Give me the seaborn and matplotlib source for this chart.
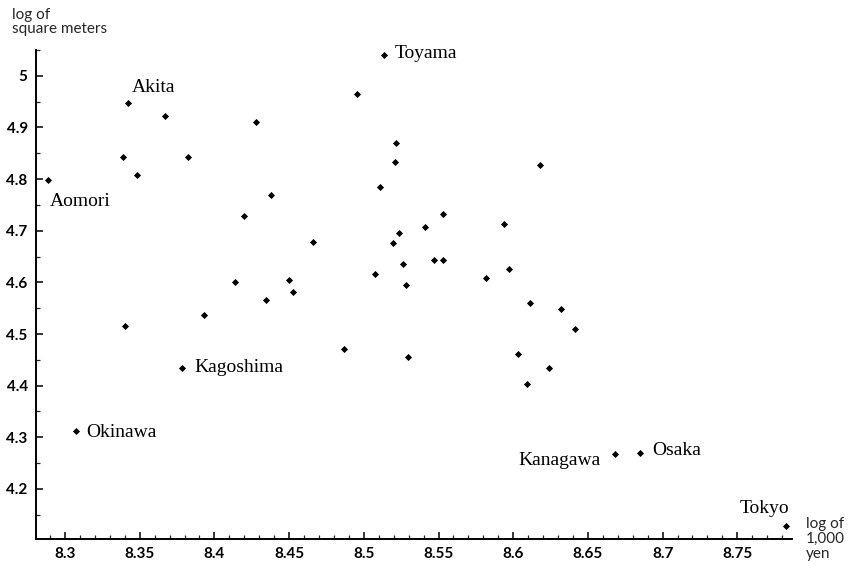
import matplotlib
matplotlib.use("Agg")
import matplotlib.pyplot as plt
from matplotlib.ticker import MultipleLocator
import seaborn as sns
import pandas as pd

# Prefecture-level data: log of income (1,000 yen) vs log of floor area (square meters)
names = ["Akita", "", "", "", "", "", "Aomori", "",
         "", "", "", "", "", "", "", "Kagoshima",
         "Okinawa",
         "Toyama", "", "", "", "", "",
         "", "", "", "", "", "", "", "", "", "", "", "", "", "", "", "", "", "", "", "",
         "", "Kanagawa", "Osaka", "Tokyo"]
log_income = [8.3424, 8.3671, 8.4276, 8.3390, 8.3821, 8.3484, 8.2888, 8.4379,
              8.4200, 8.4138, 8.3930, 8.3402, 8.4497, 8.4526, 8.4348, 8.3785,
              8.3072,
              8.5133, 8.4954, 8.5218, 8.5209, 8.6177, 8.5108,
              8.5528, 8.5407, 8.5941, 8.5238, 8.5195, 8.4662, 8.5468, 8.5528,
              8.5262, 8.5974, 8.5818, 8.5077, 8.5280, 8.6115, 8.6318, 8.6414,
              8.4867, 8.5294, 8.6030, 8.6237,
              8.6092, 8.6681, 8.6849, 8.7824]
log_area = [4.948, 4.923, 4.911, 4.842, 4.842, 4.808, 4.798, 4.769,
            4.729, 4.601, 4.537, 4.515, 4.605, 4.581, 4.565, 4.435,
            4.313,
            5.040, 4.964, 4.870, 4.833, 4.828, 4.784,
            4.732, 4.707, 4.713, 4.695, 4.676, 4.679, 4.643, 4.643,
            4.635, 4.625, 4.609, 4.616, 4.595, 4.560, 4.549, 4.509,
            4.470, 4.455, 4.461, 4.435,
            4.404, 4.267, 4.270, 4.129]

df = pd.DataFrame({"name": names, "income": log_income, "area": log_area})

sns.set_style("ticks")
plt.rcParams["font.family"] = ["Liberation Serif", "DejaVu Serif"]

fig = plt.figure(figsize=(8.52, 5.68), dpi=100)
ax = fig.add_axes([36 / 852, 29 / 568, 756 / 852, 489 / 568])

sns.scatterplot(data=df, x="income", y="area", ax=ax, marker="D", s=9,
                color="black", edgecolor="black", linewidth=0.6)

ax.set_xlim(8.2806, 8.7866)
ax.set_ylim(4.103, 5.05)
ax.set_xlabel("")
ax.set_ylabel("")

ax.xaxis.set_major_locator(MultipleLocator(0.05))
ax.xaxis.set_minor_locator(MultipleLocator(0.01))
ax.yaxis.set_major_locator(MultipleLocator(0.1))
ax.yaxis.set_minor_locator(MultipleLocator(0.05))
ax.set_xticks([8.3, 8.35, 8.4, 8.45, 8.5, 8.55, 8.6, 8.65, 8.7, 8.75])
ax.set_xticklabels(["8.3", "8.35", "8.4", "8.45", "8.5", "8.55", "8.6",
                    "8.65", "8.7", "8.75"])
ax.set_yticks([4.2, 4.3, 4.4, 4.5, 4.6, 4.7, 4.8, 4.9, 5.0])
ax.set_yticklabels(["4.2", "4.3", "4.4", "4.5", "4.6", "4.7", "4.8", "4.9", "5"])

ax.tick_params(which="major", direction="in", length=5, width=1.1,
               labelsize=11, pad=6, colors="black")
ax.tick_params(which="minor", direction="in", length=3, width=0.9)
for lab in ax.get_xticklabels() + ax.get_yticklabels():
    lab.set_family(["Lato", "DejaVu Sans"])
    lab.set_fontweight("bold")

for side in ["top", "right"]:
    ax.spines[side].set_visible(False)
for side in ["left", "bottom"]:
    ax.spines[side].set_linewidth(1.4)
    ax.spines[side].set_color("black")

# Labels for selected prefectures
offsets = {
    "Akita": (3, 15, "left", "center"),
    "Aomori": (2, -21, "left", "center"),
    "Toyama": (11, 2, "left", "center"),
    "Kagoshima": (12, 0, "left", "center"),
    "Okinawa": (11, -2, "left", "center"),
    "Kanagawa": (-14, -6, "right", "center"),
    "Osaka": (12, 2, "left", "center"),
    "Tokyo": (4, 17, "right", "center"),
}
for _, row in df[df["name"] != ""].iterrows():
    dx, dy, ha, va = offsets[row["name"]]
    ax.annotate(row["name"], (row["income"], row["area"]),
                xytext=(dx, dy), textcoords="offset pixels",
                ha=ha, va=va, fontsize=14, color="black")

fig.text(12 / 852, 1 - 22 / 568, "log of\nsquare meters", ha="left", va="center",
         fontsize=11, linespacing=0.95, family=["Lato", "DejaVu Sans"])
fig.text(806 / 852, 1 - 539 / 568, "log of\n1,000\nyen", ha="left", va="center",
         fontsize=11, linespacing=1.1, family=["Lato", "DejaVu Sans"])

fig.savefig("out.png", dpi=100, facecolor="white")
